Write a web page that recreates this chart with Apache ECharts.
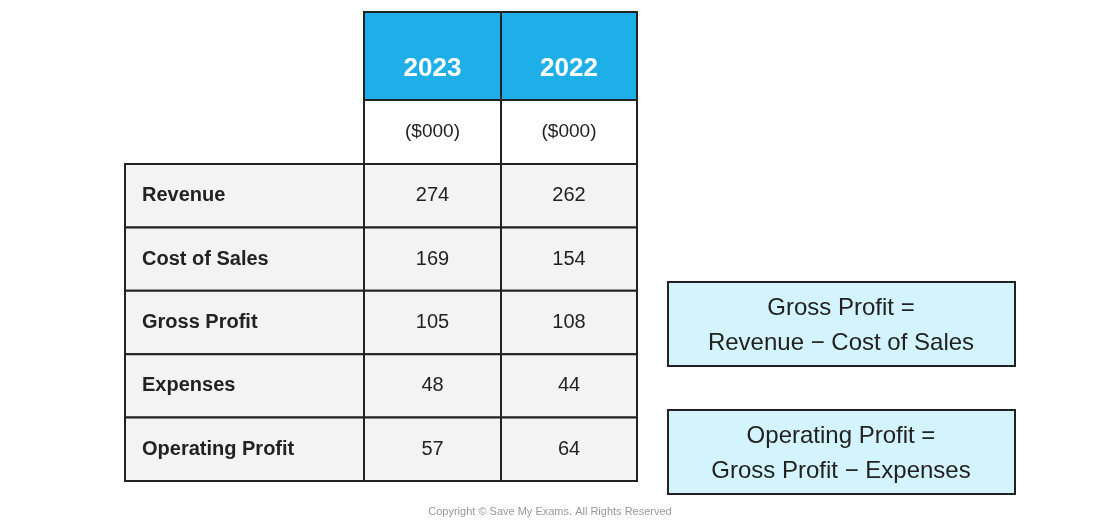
<!DOCTYPE html>
<html><head><meta charset="utf-8">
<script src="https://cdn.jsdelivr.net/npm/echarts@6/dist/echarts.min.js"></script>
<style>html,body{margin:0;padding:0;background:#fff}#c{width:1100px;height:525px}</style>
</head><body><div id="c"></div>
<script>
const years = ['2023', '2022'];
const units = ['($000)', '($000)'];
const rowLabels = ['Revenue', 'Cost of Sales', 'Gross Profit', 'Expenses', 'Operating Profit'];
const values2023 = [274, 169, 105, 48, 57];
const values2022 = [262, 154, 108, 44, 64];
const notes = [['Gross Profit =', 'Revenue \u2212 Cost of Sales'], ['Operating Profit =', 'Gross Profit \u2212 Expenses']];

const colX = [125, 364, 501, 637];
const headTop = 12, headBot = 100, unitBot = 164, rowH = 63.4;
const line = '#222', font = '"Noto Sans", sans-serif';
const els = [];
function rect(x, y, w, h, fill) {
  els.push({type: 'rect', shape: {x, y, width: w, height: h}, style: {fill, stroke: line, lineWidth: 2}});
}
function text(x, y, t, size, weight, color, align) {
  els.push({type: 'text', x, y, style: {text: t, fontSize: size, fontWeight: weight, fill: color, font: `${weight} ${size}px ${font}`, align: align || 'center', verticalAlign: 'middle'}});
}
years.forEach((yr, i) => {
  rect(colX[i+1], headTop, colX[i+2]-colX[i+1], headBot-headTop, '#1eaee8');
  text((colX[i+1]+colX[i+2])/2, 69, yr, 26, 'bold', '#fff');
  rect(colX[i+1], headBot, colX[i+2]-colX[i+1], unitBot-headBot, '#fff');
  text((colX[i+1]+colX[i+2])/2, 132, units[i], 19, 'normal', '#222');
});
rowLabels.forEach((lab, r) => {
  const y = unitBot + r*rowH;
  rect(colX[0], y, colX[1]-colX[0], rowH, '#f3f3f3');
  text(colX[0]+17, y+rowH/2, lab, 20, 'bold', '#222', 'left');
  [values2023, values2022].forEach((vals, i) => {
    rect(colX[i+1], y, colX[i+2]-colX[i+1], rowH, '#f3f3f3');
    text((colX[i+1]+colX[i+2])/2, y+rowH/2, String(vals[r]), 20, 'normal', '#222');
  });
});
const boxY = [282, 410];
notes.forEach((n, i) => {
  rect(668, boxY[i], 347, 84, '#d3f4fc');
  text(841, boxY[i]+26, n[0], 24, 'normal', '#222');
  text(841, boxY[i]+61, n[1], 24, 'normal', '#222');
});
text(550, 512, 'Copyright \u00a9 Save My Exams. All Rights Reserved', 11, 'normal', '#999');
const chart = echarts.init(document.getElementById('c'));
chart.setOption({animation: false, graphic: {elements: els}});
</script></body></html>
